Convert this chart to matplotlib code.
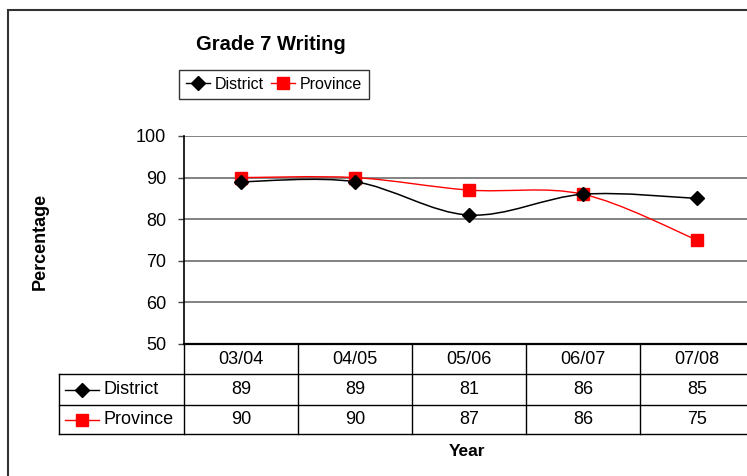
import numpy as np
import matplotlib
matplotlib.use("Agg")
import matplotlib.pyplot as plt
from matplotlib.path import Path
from matplotlib.patches import PathPatch, Rectangle
from matplotlib.lines import Line2D
from matplotlib.transforms import blended_transform_factory

# data
years = ["03/04", "04/05", "05/06", "06/07", "07/08"]
district = [89, 89, 81, 86, 85]
province = [90, 90, 87, 86, 75]

plt.rcParams['font.family'] = ['Liberation Sans', 'DejaVu Sans']

W, H = 747, 476
fig = plt.figure(figsize=(W / 100, H / 100), dpi=100)

def fx(px):
    return px / W

def fy(py):
    return 1 - py / H

# plot area in pixels: x 184..754, y 136..344
ax = fig.add_axes([fx(184), fy(344), fx(570), 208 / H])
ax.set_xlim(-0.5, len(years) - 0.5)
ax.set_ylim(50, 100)
ax.set_yticks(range(50, 101, 10))
ax.set_xticks([])
ax.tick_params(axis='y', length=4, width=1, pad=9, labelsize=13, color='#444444')
for s in ['top', 'right']:
    ax.spines[s].set_visible(False)
ax.spines['left'].set_linewidth(1.2)
ax.spines['bottom'].set_linewidth(1.6)
ax.yaxis.grid(True, color='#606060', linewidth=1.1)
ax.set_axisbelow(True)


def smooth(xs, ys):
    # excel-like smoothed line as cubic bezier segments
    pts = np.column_stack([xs, ys]).astype(float)
    ext = np.vstack([pts[0], pts, pts[-1]])
    verts = [pts[0]]
    codes = [Path.MOVETO]
    for i in range(len(pts) - 1):
        p0, p1, p2, p3 = ext[i], ext[i + 1], ext[i + 2], ext[i + 3]
        verts += [p1 + (p2 - p0) / 6, p2 - (p3 - p1) / 6, p2]
        codes += [Path.CURVE4] * 3
    return Path(verts, codes)


x = np.arange(len(years))
ax.add_patch(PathPatch(smooth(x, district), fill=False, edgecolor='black', lw=1.1, zorder=3))
ax.add_patch(PathPatch(smooth(x, province), fill=False, edgecolor='red', lw=1.0, zorder=3))
ax.plot(x, province, 's', color='red', ms=8, zorder=4)
ax.plot(x, district, 'D', color='black', ms=7, zorder=5)

# data table under the axis
tr = blended_transform_factory(ax.transData, ax.transAxes)
ah = 208.0
y_hdr = -30 / ah
y_r1 = -61 / ah
y_r2 = -90 / ah
x_lab = -0.5 - 125 / 114.0
kw = dict(transform=tr, clip_on=False, color='black', lw=1.0)
ax.plot([x_lab, len(years) - 0.5], [y_hdr, y_hdr], **kw)
ax.plot([x_lab, len(years) - 0.5], [y_r1, y_r1], **kw)
ax.plot([x_lab, len(years) - 0.5], [y_r2, y_r2], **kw)
ax.plot([x_lab, x_lab], [y_hdr, y_r2], **kw)
for b in np.arange(len(years) + 1) - 0.5:
    ax.plot([b, b], [0, y_r2], **kw)

for i, yr in enumerate(years):
    ax.text(i, y_hdr / 2, yr, transform=tr, ha='center', va='center', fontsize=13)
    ax.text(i, (y_hdr + y_r1) / 2, str(district[i]), transform=tr, ha='center', va='center', fontsize=13)
    ax.text(i, (y_r1 + y_r2) / 2, str(province[i]), transform=tr, ha='center', va='center', fontsize=13)

for yy, name, col, mk, ms in [((y_hdr + y_r1) / 2, "District", 'black', 'D', 7),
                              ((y_r1 + y_r2) / 2, "Province", 'red', 's', 8)]:
    ax.plot([x_lab + 6 / 114, x_lab + 40 / 114], [yy, yy], color=col, lw=1.0,
            transform=tr, clip_on=False)
    ax.plot([x_lab + 23 / 114], [yy], mk, color=col, ms=ms, transform=tr, clip_on=False)
    ax.text(x_lab + 45 / 114, yy, name, transform=tr, ha='left', va='center', fontsize=13)

# titles and labels
fig.text(fx(271), fy(44), "Grade 7 Writing", ha='center', va='center',
         fontsize=14.5, fontweight='bold')
fig.text(fx(40), fy(241), "Percentage", ha='center', va='center', rotation=90,
         fontsize=13, fontweight='bold')
fig.text(fx(467), fy(451), "Year", ha='center', va='center', fontsize=12.5, fontweight='bold')

handles = [Line2D([], [], color='black', marker='D', ms=7, lw=1.0),
           Line2D([], [], color='red', marker='s', ms=8, lw=1.0)]
leg = fig.legend(handles, ["District", "Province"], loc='center', ncol=2,
                 bbox_to_anchor=(fx(274), fy(84.5)), frameon=True, fancybox=False,
                 edgecolor='black', prop={'size': 11.5},
                 handlelength=1.5, handletextpad=0.3, columnspacing=0.45,
                 borderpad=0.45, borderaxespad=0)
leg.get_frame().set_linewidth(1.0)

# outer chart frame
fig.add_artist(Rectangle((fx(8), -0.1), 1.1, fy(10) + 0.1, transform=fig.transFigure,
                         fill=False, edgecolor='#333333', lw=1.5))

fig.savefig("out.png", dpi=100)
